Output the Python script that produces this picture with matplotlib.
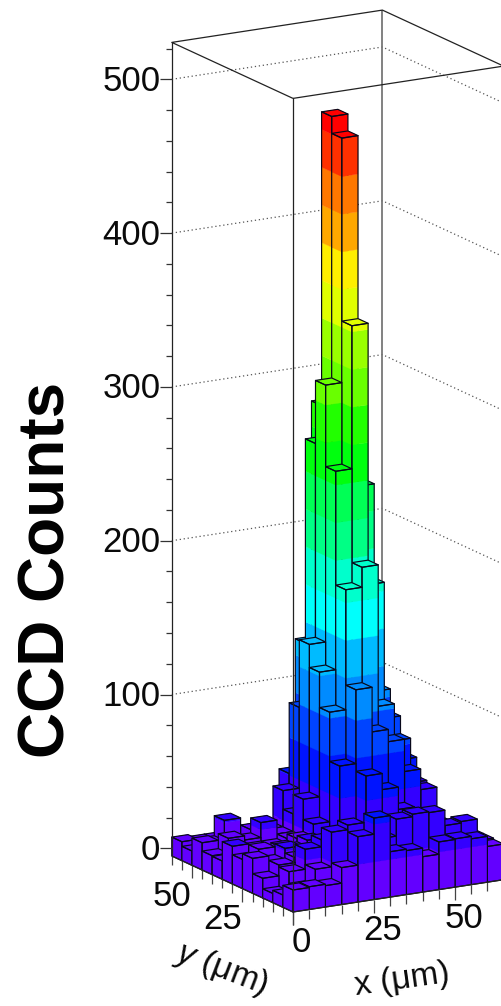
import colorsys
import matplotlib
matplotlib.use("Agg")
import matplotlib.pyplot as plt
from matplotlib.collections import PolyCollection, LineCollection

plt.rcParams['font.family'] = ['Liberation Sans', 'DejaVu Sans']
plt.rcParams['mathtext.fontset'] = 'custom'
plt.rcParams['mathtext.rm'] = 'Liberation Sans'
plt.rcParams['mathtext.it'] = 'Liberation Sans:italic'
plt.rcParams['mathtext.bf'] = 'Liberation Sans:bold'

# ---- data: counts per 5 um pixel, one list per y row (y = 0 first), x increasing
row_y00 = [9.3, 9.8, 8.9, 19, 37.5, 48, 24.5, 23.6, 18, 26, 26.4, 24.8, 18.2]
row_y05 = [3, 6, 16.5, 39, 42, 30, 30, 41, 42.6, 42, 32, 33, 19]
row_y10 = [1, 13.5, 26.5, 31, 28, 28, 28, 28, 28, 32, 24, 25, 19]
row_y15 = [7.8, 14.8, 18, 20, 22, 25, 30, 30, 30, 30, 25, 22, 15]
row_y20 = [17.7, 14, 21, 15, 18, 22, 28, 60, 49.5, 35, 26, 24, 14]
row_y25 = [14, 19, 14, 16, 20, 18, 65, 113, 84, 76, 55, 41.6, 15]
row_y30 = [19.5, 12, 12, 14, 18, 25.8, 97, 175, 188, 96, 72, 43, 15]
row_y35 = [6.9, 10, 12, 12, 15, 39, 120, 249, 342, 172, 83.5, 55, 20]
row_y40 = [7.3, 17, 14.3, 24, 15, 26.4, 135, 302, 461, 233, 98, 30, 15]
row_y45 = [12.7, 8, 10, 16.4, 15, 38.5, 91, 261, 472, 100, 40, 25, 10]
row_y50 = [4.3, 8, 21, 10, 12, 13, 45, 128, 281, 80, 30, 15, 10]
row_y55 = [7.3, 6, 6, 8, 8, 8, 8, 30, 60, 30, 15, 10, 8]
counts = [row_y00, row_y05, row_y10, row_y15, row_y20, row_y25,
          row_y30, row_y35, row_y40, row_y45, row_y50, row_y55]

bin_um = 5
x_range = [0, 65]
y_range = [0, 60]
z_range = [-5, 524]
z_major = [0, 100, 200, 300, 400, 500]
z_minor = [20, 40, 60, 80, 120, 140, 160, 180, 220, 240, 260, 280,
           320, 340, 360, 380, 420, 440, 460, 480, 520]
xy_major = [0, 25, 50]
band_step = 24.5
band_hues = [263.2, 252, 235.2, 224, 207.2, 196, 179.2, 168, 151.2, 140,
             123.2, 112, 95.2, 84, 67.2, 56, 39.2, 28, 11.2, 0]
band_colors = [colorsys.hls_to_rgb(h / 360, 0.5, 1) for h in band_hues]


# ---- oblique projection of the ROOT lego view onto image pixels
def proj(x, y, z):
    return (293.0 + 3.24 * x - 2.02 * y,
            912.0 - 0.497 * x - 0.9333 * y - 1.538 * (z - z_range[0]))


def band_of(z):
    k = int((z - z_range[0]) / band_step)
    return min(max(k, 0), len(band_colors) - 1)


fig = plt.figure(figsize=(5.02, 10.06), dpi=100)
ax = fig.add_axes([0, 0, 1, 1])
ax.set_xlim(0, 502)
ax.set_ylim(1006, 0)
ax.axis('off')

xa, xb = x_range
ya, yb = y_range
za, zb = z_range
LINE = '#222222'
TEXT = '#0a0a0a'

# back walls and dotted grid
grid = []
for z in z_major:
    grid.append([proj(xa, yb, z), proj(xb, yb, z), proj(xb, ya, z)])
ax.add_collection(LineCollection(grid, colors='#555555', linewidths=0.9,
                                 linestyles=(0, (1, 2.2)), zorder=1))
ax.add_collection(LineCollection([[proj(xb, yb, za), proj(xb, yb, zb)]],
                                 colors='#777777', linewidths=1.3, zorder=1))

# bars, painted from the back corner to the front corner
polys, faces, edges, widths = [], [], [], []
NONE = (0, 0, 0, 0)


def add_fill(poly, col):
    polys.append(poly)
    faces.append(col)
    edges.append(col)
    widths.append(0.25)


for i in range(len(counts[0]) - 1, -1, -1):
    for j in range(len(counts) - 1, -1, -1):
        h = counts[j][i]
        x0, x1 = i * bin_um, (i + 1) * bin_um
        y0, y1 = j * bin_um, (j + 1) * bin_um
        top_band = band_of(h)
        for k in range(top_band + 1):
            lo = za + k * band_step
            hi = min(za + (k + 1) * band_step, h) if k < top_band else h
            col = band_colors[k]
            add_fill([proj(x0, y0, lo), proj(x1, y0, lo), proj(x1, y0, hi), proj(x0, y0, hi)], col)
            add_fill([proj(x0, y0, lo), proj(x0, y1, lo), proj(x0, y1, hi), proj(x0, y0, hi)], col)
        add_fill([proj(x0, y0, h), proj(x1, y0, h), proj(x1, y1, h), proj(x0, y1, h)],
                 band_colors[top_band])
        for outline in ([proj(x0, y0, za), proj(x1, y0, za), proj(x1, y0, h), proj(x0, y0, h)],
                        [proj(x0, y0, za), proj(x0, y1, za), proj(x0, y1, h), proj(x0, y0, h)],
                        [proj(x0, y0, h), proj(x1, y0, h), proj(x1, y1, h), proj(x0, y1, h)]):
            polys.append(outline)
            faces.append(NONE)
            edges.append((0.03, 0.03, 0.1, 1))
            widths.append(0.85)

ax.add_collection(PolyCollection(polys, facecolors=faces, edgecolors=edges,
                                 linewidths=widths, zorder=2, closed=True))

# box outline
box = [
    [proj(xa, yb, za), proj(xa, yb, zb)],
    [proj(xa, ya, za), proj(xa, ya, zb)],
    [proj(xa, ya, zb), proj(xb, ya, zb), proj(xb, yb, zb), proj(xa, yb, zb), proj(xa, ya, zb)],
    [proj(xa, ya, za), proj(xb, ya, za)],
    [proj(xa, ya, za), proj(xa, yb, za)],
]
ax.add_collection(LineCollection(box, colors=LINE, linewidths=0.9, zorder=3))

# z axis ticks on the left edge
zx, _ = proj(xa, yb, 0)
zt = []
for z in z_major:
    _, py = proj(xa, yb, z)
    zt.append([(zx - 12, py), (zx, py)])
    ax.text(zx - 11.5, py + 2, str(z), ha='right', va='center', fontsize=25, color=TEXT)
for z in z_minor:
    _, py = proj(xa, yb, z)
    zt.append([(zx - 6, py), (zx, py)])
ax.add_collection(LineCollection(zt, colors='#333333', linewidths=0.9, zorder=3))

# x and y axis ticks, one per pixel edge
xyt = []
for v in range(xa, xb + 1, bin_um):
    px, py = proj(v, ya, za)
    xyt.append([(px, py), (px, py + (13 if v in xy_major else 9))])
for v in range(ya, yb + 1, bin_um):
    px, py = proj(xa, v, za)
    xyt.append([(px, py), (px, py + (13 if v in xy_major else 9))])
ax.add_collection(LineCollection(xyt, colors='#444444', linewidths=0.9, zorder=1.5))

for v in xy_major:
    px, py = proj(v, ya, za)
    ax.text(px + 8.5, py + 31, str(v), ha='center', va='center', fontsize=25, color=TEXT)
for v in xy_major[1:]:
    px, py = proj(xa, v, za)
    ax.text(px - 20, py + 31, str(v), ha='center', va='center', fontsize=25, color=TEXT)

ax.text(48, 570, 'CCD Counts', rotation=90, ha='center', va='center',
        fontsize=46, fontweight='bold', color='black')
ax.text(222, 969, r'$\mathit{y}$ (μm)', rotation=-21, ha='center', va='center',
        fontsize=24, color=TEXT, rotation_mode='anchor')
ax.text(402, 980, 'x (μm)', rotation=8, ha='center', va='center',
        fontsize=24, color=TEXT, rotation_mode='anchor')

fig.savefig('out.png', dpi=100)
